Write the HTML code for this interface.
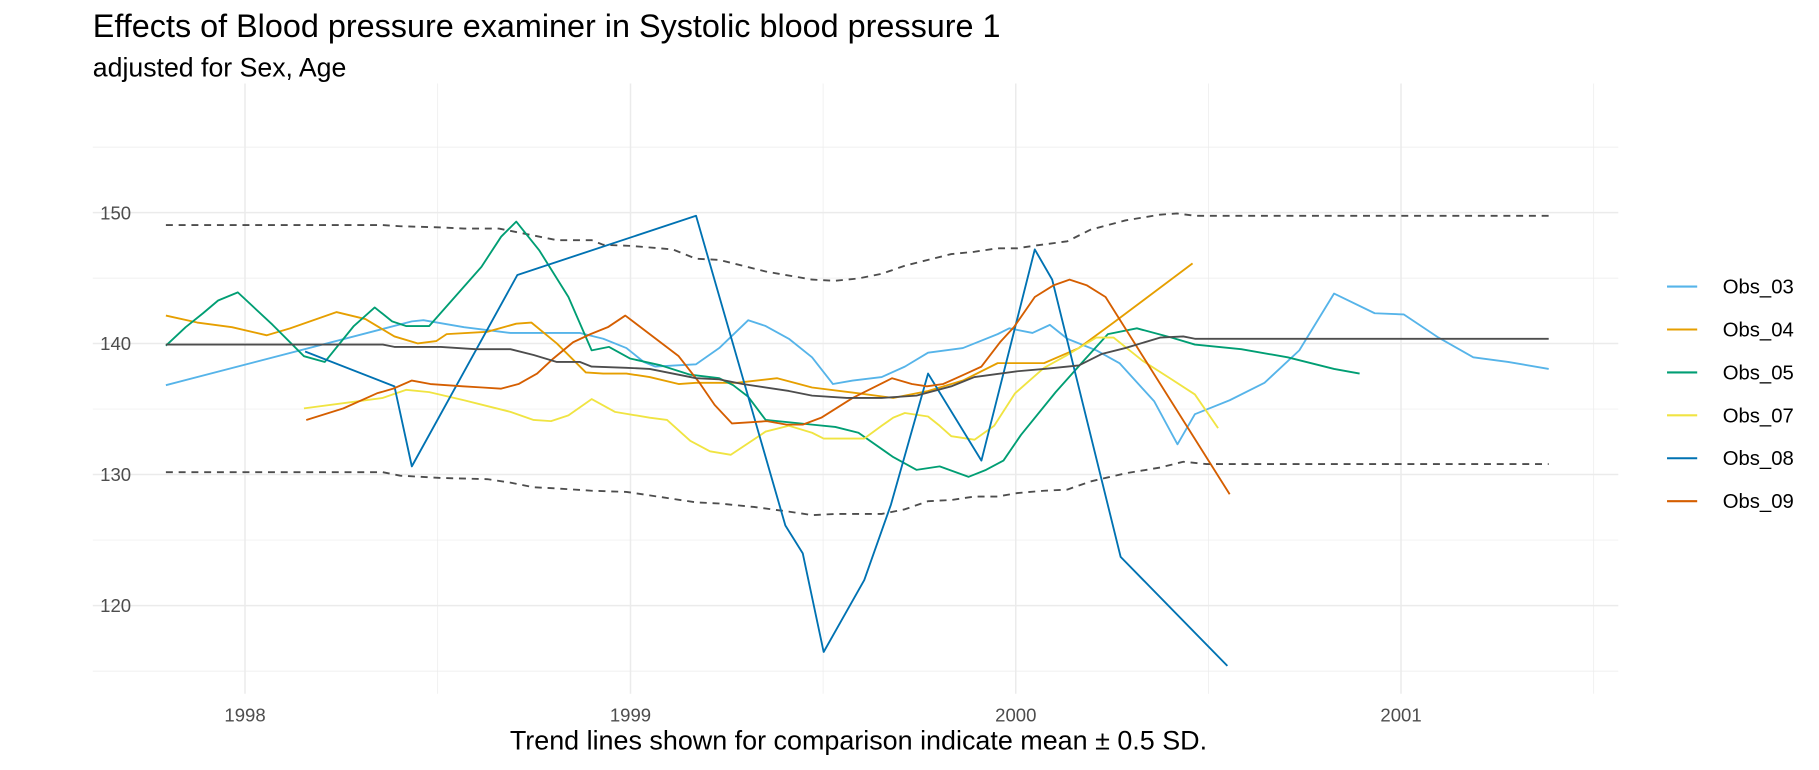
<!DOCTYPE html>
<html><head><meta charset="utf-8"><style>html,body{margin:0;padding:0;background:#fff}svg{display:block}</style></head>
<body>
<svg width="1819" height="770" viewBox="0 0 1568 663.7" xmlns="http://www.w3.org/2000/svg" font-family="Liberation Sans, Arial, sans-serif">
<rect width="1568" height="663.7" fill="#fff"/>
<g stroke="#EBEBEB" stroke-width="0.6">
<line x1="80" x2="1395" y1="126.8" y2="126.8"/><line x1="80" x2="1395" y1="239.7" y2="239.7"/><line x1="80" x2="1395" y1="352.6" y2="352.6"/><line x1="80" x2="1395" y1="465.5" y2="465.5"/><line x1="80" x2="1395" y1="578.5" y2="578.5"/>
<line y1="72" y2="598" x1="377.3" x2="377.3"/><line y1="72" y2="598" x1="709.5" x2="709.5"/><line y1="72" y2="598" x1="1041.7" x2="1041.7"/><line y1="72" y2="598" x1="1373.8" x2="1373.8"/>
</g>
<g stroke="#EBEBEB" stroke-width="1.3">
<line x1="80" x2="1395" y1="183.3" y2="183.3"/><line x1="80" x2="1395" y1="296.1" y2="296.1"/><line x1="80" x2="1395" y1="409" y2="409"/><line x1="80" x2="1395" y1="522" y2="522"/>
<line y1="72" y2="598" x1="211.2" x2="211.2"/><line y1="72" y2="598" x1="543.5" x2="543.5"/><line y1="72" y2="598" x1="875.6" x2="875.6"/><line y1="72" y2="598" x1="1207.7" x2="1207.7"/>
</g>
<g fill="none" stroke-width="1.6" stroke-linejoin="round">
<polyline stroke="#4D4D4D" stroke-dasharray="6,5" points="143,194 330,194 345,195 380,196 400,197 430,197 460,203 480,207 510,207 520,211 545,212 580,215 600,223 620,224 640,229 660,234 700,241 720,242 740,240 760,236 780,229 800,224 820,219 840,217 860,214 877,214 890,212 920,208 940,198 970,190 1000,185 1015,184 1030,186 1335,186"/>
<polyline stroke="#4D4D4D" stroke-dasharray="6,5" points="143,407 330,407 345,410 380,412 420,413 440,416 460,420 480,421 510,423 540,424 560,427 600,433 620,434 650,437 680,441 700,444 720,443 760,443 780,439 800,432 820,431 840,428 860,428 877,425 900,423 920,422 940,415 970,408 1000,403 1020,398 1040,400 1335,400"/>
<polyline stroke="#56B4E9" points="143,332 355,277 365,276 400,282 440,287 500,287 520,292 540,300 555,312 565,316 600,314 620,300 645,276 660,281 680,292 700,308 718,331 735,328 760,325 780,316 800,304 830,300 860,288 870,283 890,287 905,280 920,292 945,302 965,313 995,346 1015,383 1030,357 1060,345 1090,330 1120,302 1150,253 1185,270 1210,271 1240,291 1270,308 1300,312 1335,318"/>
<polyline stroke="#E69F00" points="143,272 170,278 200,282 230,289 250,283 270,276 290,269 315,275 340,290 360,296 376,294 385,288 420,286 445,279 458,278 480,296 505,321 520,322 540,322 560,325 585,331 600,330 635,330 670,326 700,334 740,339 770,343 800,337 830,328 860,313 875,313 900,313 930,300 960,278 1000,248 1028,227"/>
<polyline stroke="#009E73" points="143,298 160,282 175,270 188,259 205,252 235,280 262,307 280,312 305,281 323,265 338,277 350,281 370,281 415,230 432,204 445,191 465,216 490,256 510,302 525,299 543,309 570,315 595,323 620,326 632,332 645,342 660,362 700,366 720,368 740,373 770,394 790,405 810,402 835,411 850,405 865,397 880,375 910,338 935,310 955,288 980,283 1010,291 1030,297 1070,301 1110,308 1150,318 1172,322"/>
<polyline stroke="#F0E442" points="262,352 300,347 330,343 350,336 370,338 400,345 420,350 440,355 460,362 475,363 490,358 510,344 530,355 560,360 575,362 595,380 612,389 630,392 660,372 680,367 700,373 710,378 745,378 760,367 770,360 780,356 800,359 810,367 820,376 840,379 857,367 875,339 900,317 920,306 945,291 960,291 985,311 1010,327 1030,340 1050,369"/>
<polyline stroke="#0072B2" points="263,303 340,333 355,402 446,237 600,186 677,453 692,477 710,562 745,500 768,435 800,322 846,397 892,215 907,241 966,480 1058,574"/>
<polyline stroke="#D55E00" points="264,362 296,352 325,339 339,335 355,328 371,331 399,333 416,334 432,335 447,331 463,322 477,309 494,295 509,288 524,282 539,272 585,307 603,330 616,349 631,365 661,363 678,366 692,366 708,360 735,343 769,326 786,331 799,333 813,331 833,322 846,316 862,295 874,282 892,256 908,246 922,241 937,246 953,256 1060,426"/>
<polyline stroke="#4D4D4D" points="143,297 330,297 340,299 380,299 410,301 440,301 460,306 480,312 500,312 510,316 540,317 560,318 600,326 620,327 640,331 680,337 700,341 730,343 760,343 790,341 820,333 840,325 877,320 900,318 930,315 950,305 970,300 1000,291 1020,290 1030,292 1335,292"/>
</g>
<g font-size="16" fill="#4D4D4D">
<g text-anchor="end"><text x="113" y="189">150</text><text x="113" y="301.5">140</text><text x="113" y="414.5">130</text><text x="113" y="527.5">120</text></g>
<g text-anchor="middle"><text x="211.2" y="622">1998</text><text x="543.5" y="622">1999</text><text x="875.6" y="622">2000</text><text x="1207.7" y="622">2001</text></g>
</g>
<g stroke-width="1.8">
<line x1="1437" x2="1463" y1="247" y2="247" stroke="#56B4E9"/>
<line x1="1437" x2="1463" y1="284" y2="284" stroke="#E69F00"/>
<line x1="1437" x2="1463" y1="321" y2="321" stroke="#009E73"/>
<line x1="1437" x2="1463" y1="358" y2="358" stroke="#F0E442"/>
<line x1="1437" x2="1463" y1="395" y2="395" stroke="#0072B2"/>
<line x1="1437" x2="1463" y1="432" y2="432" stroke="#D55E00"/>
</g>
<g font-size="17.5" fill="#000">
<text x="1485" y="253">Obs_03</text><text x="1485" y="290">Obs_04</text><text x="1485" y="327">Obs_05</text><text x="1485" y="364">Obs_07</text><text x="1485" y="401">Obs_08</text><text x="1485" y="438">Obs_09</text>
</g>
<text x="80" y="32" font-size="27.9" fill="#000">Effects of Blood pressure examiner in Systolic blood pressure 1</text>
<text x="80" y="66" font-size="23" fill="#000">adjusted for Sex, Age</text>
<text x="740" y="646" font-size="23.2" fill="#000" text-anchor="middle">Trend lines shown for comparison indicate mean ± 0.5 SD.</text>
</svg>
</body></html>
